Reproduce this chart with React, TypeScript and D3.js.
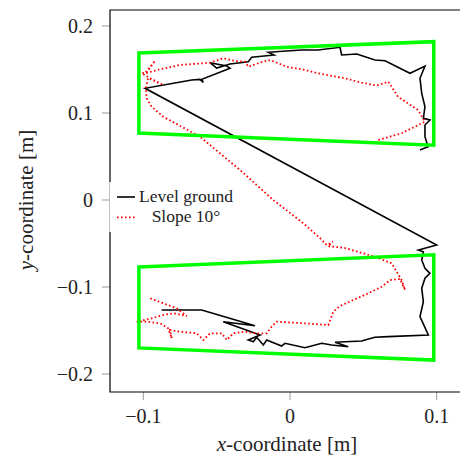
import React from 'react';
import * as d3 from 'd3';

// Level ground trajectory (x, y in metres)
const levelX = [
  0.0886, 0.0941, 0.0920, 0.0920, 0.0954, 0.0909, 0.0920, 0.0898, 0.0886, 0.0920,
  0.0818, 0.0648, 0.0579, 0.0455, 0.0352, 0.0341, 0.0191, 0.0080, 0.0000, -0.0148,
  -0.0109, -0.0159, -0.0261, -0.0284, -0.0409, -0.0500, -0.0545, -0.0431, -0.0409, -0.0602,
  -0.0591, -0.0614, -0.0670, -0.0988,
  0.1000, 0.0875, 0.0909, 0.0898, 0.0920, 0.0954, 0.0920, 0.0898, 0.0909, 0.0886,
  0.0943, 0.0670, 0.0579, 0.0511, 0.0489, 0.0341, 0.0307, 0.0397, 0.0284, 0.0216,
  0.0102, -0.0034, -0.0057, -0.0159, -0.0182, -0.0227, -0.0250, -0.0284, -0.0204, -0.0455,
  -0.0239, -0.0602, -0.0875
];
const levelY = [
  0.0575, 0.0613, 0.0728, 0.0862, 0.0920, 0.0939, 0.1072, 0.1226, 0.1399, 0.1540,
  0.1456, 0.1601, 0.1609, 0.1678, 0.1667, 0.1755, 0.1724, 0.1724, 0.1716, 0.1698,
  0.1667, 0.1659, 0.1640, 0.1590, 0.1563, 0.1517, 0.1578, 0.1540, 0.1514, 0.1387,
  0.1353, 0.1387, 0.1379, 0.1284,
  -0.0517, -0.0575, -0.0594, -0.0690, -0.0785, -0.0843, -0.0900, -0.1015, -0.1169, -0.1341,
  -0.1552, -0.1571, -0.1578, -0.1609, -0.1621, -0.1632, -0.1636, -0.1686, -0.1667, -0.1647,
  -0.1698, -0.1647, -0.1678, -0.1609, -0.1667, -0.1578, -0.1629, -0.1609, -0.1552, -0.1399,
  -0.1445, -0.1264, -0.1264
];

// Slope 10° trajectory
const slopeX = [
  0.0602, 0.0761, 0.0920, 0.0873, 0.0736, 0.0670, 0.0591, 0.0489, 0.0375, 0.0193,
  0.0102, -0.0022, -0.0136, -0.0191, -0.0284, -0.0307, -0.0375, -0.0455, -0.0545, -0.0750,
  -0.0886, -0.0988, -0.0920, -0.0975, -0.1011, -0.0954, -0.0864, -0.0968, -0.0982, -0.0977,
  -0.0943, -0.0864, -0.0614, -0.0341, -0.0114, 0.0091, 0.0204, 0.0250, 0.0293, 0.0259,
  0.0375, 0.0579, 0.0693, 0.0761, 0.0784, 0.0750, 0.0682, 0.0625, 0.0534, 0.0341,
  0.0295, 0.0261, 0.0091, -0.0091, -0.0125, -0.0159, -0.0227, -0.0307, -0.0387, -0.0431,
  -0.0466, -0.0545, -0.0591, -0.0636, -0.0750, -0.0818, -0.0806, -0.0832, -0.0886, -0.0977,
  -0.1045, -0.0943, -0.0864, -0.0795, -0.0704, -0.0772, -0.0954
];
const slopeY = [
  0.0690, 0.0767, 0.0900, 0.1034, 0.1187, 0.1360, 0.1316, 0.1348, 0.1399, 0.1456,
  0.1494, 0.1532, 0.1609, 0.1586, 0.1532, 0.1590, 0.1598, 0.1629, 0.1578, 0.1552,
  0.1502, 0.1456, 0.1601, 0.1471, 0.1456, 0.1399, 0.1322, 0.1402, 0.1287, 0.1169,
  0.1072, 0.0957, 0.0728, 0.0345, 0.0000, -0.0268, -0.0437, -0.0517, -0.0479, -0.0529,
  -0.0552, -0.0652, -0.0728, -0.0920, -0.1034, -0.0908, -0.0920, -0.0997, -0.1072, -0.1218,
  -0.1284, -0.1437, -0.1417, -0.1399, -0.1456, -0.1532, -0.1532, -0.1514, -0.1532, -0.1609,
  -0.1532, -0.1532, -0.1609, -0.1532, -0.1514, -0.1494, -0.1590, -0.1472, -0.1417, -0.1399,
  -0.1399, -0.1360, -0.1322, -0.1302, -0.1333, -0.1245, -0.1130
];

// target zones (quadrilaterals)
const upperZoneX = [-0.103, 0.098, 0.098, -0.103];
const upperZoneY = [0.169, 0.182, 0.063, 0.077];
const lowerZoneX = [-0.103, 0.098, 0.098, -0.103];
const lowerZoneY = [-0.077, -0.063, -0.184, -0.170];

const xTicks = [-0.1, 0, 0.1];
const yTicks = [0.2, 0.1, 0, -0.1, -0.2];
const legendLabels = ['Level ground', 'Slope 10°'];

const fmt = (v: number) => (v === 0 ? '0' : (v < 0 ? '\u2212' : '') + Math.abs(v).toString());

const FONT = 'Liberation Serif';

const App = () => {
  const width = 460;
  const height = 459;
  const left = 110, top = 10, bottom = 392, right = 470;

  const x = d3.scaleLinear().domain([-0.1227, 0.1227]).range([left, right]);
  const y = d3.scaleLinear().domain([-0.2207, 0.2184]).range([bottom, top]);

  const line = d3.line<[number, number]>().x(d => x(d[0])).y(d => y(d[1]));
  const zip = (xs: number[], ys: number[]) => xs.map((v, i) => [v, ys[i]] as [number, number]);

  const levelPath = line(zip(levelX, levelY)) || '';
  const slopePath = line(zip(slopeX, slopeY)) || '';
  const upperPath = (line(zip(upperZoneX, upperZoneY)) || '') + 'Z';
  const lowerPath = (line(zip(lowerZoneX, lowerZoneY)) || '') + 'Z';

  const txt = { fontFamily: FONT, fill: '#222' };

  return (
    <svg
      width={width}
      height={height}
      style={{ position: 'absolute', left: 0, top: 0, background: '#fff' }}
    >
      {/* ticks */}
      {yTicks.map(t => (
        <g key={`y${t}`}>
          <line x1={left - 8} x2={left} y1={y(t)} y2={y(t)} stroke="#999" strokeWidth={1} />
          <text x={93} y={y(t) + 6.8} textAnchor="end" fontSize={20} style={txt}>{fmt(t)}</text>
        </g>
      ))}
      {xTicks.map(t => (
        <g key={`x${t}`}>
          <line x1={x(t)} x2={x(t)} y1={bottom} y2={bottom + 8} stroke="#999" strokeWidth={1} />
          <text x={x(t)} y={423} textAnchor="middle" fontSize={20} style={txt}>{fmt(t)}</text>
        </g>
      ))}

      {/* frame */}
      <path d={`M${right},${top}H${left}V${bottom}H${right}`} fill="none" stroke="#000" strokeWidth={1.2} />

      {/* trajectories */}
      <path d={levelPath} fill="none" stroke="#000" strokeWidth={1.6} />
      <path d={slopePath} fill="none" stroke="#ff0000" strokeWidth={1.8} strokeDasharray="1.6 2.4" />

      {/* zones */}
      <path d={upperPath} fill="none" stroke="#00ff00" strokeWidth={3.5} />
      <path d={lowerPath} fill="none" stroke="#00ff00" strokeWidth={3.5} />

      {/* legend */}
      <g>
        <rect x={109.4} y={182} width={131} height={50} fill="#fff" />
        <line x1={117} x2={135} y1={197} y2={197} stroke="#000" strokeWidth={1.6} />
        <line x1={117} x2={135} y1={217.3} y2={217.3} stroke="#ff0000" strokeWidth={1.8} strokeDasharray="1.6 2.4" />
        <text x={186} y={201.8} textAnchor="middle" fontSize={17.5} style={txt}>{legendLabels[0]}</text>
        <text x={186} y={221.8} textAnchor="middle" fontSize={17.5} style={txt}>{legendLabels[1]}</text>
      </g>

      {/* axis labels */}
      <text x={287} y={451} textAnchor="middle" fontSize={21} style={txt}>
        <tspan fontStyle="italic">x</tspan>-coordinate [m]
      </text>
      <text transform="translate(33,200) rotate(-90)" textAnchor="middle" fontSize={21} style={txt}>
        <tspan fontStyle="italic">y</tspan>-coordinate [m]
      </text>
    </svg>
  );
};

export default App;
